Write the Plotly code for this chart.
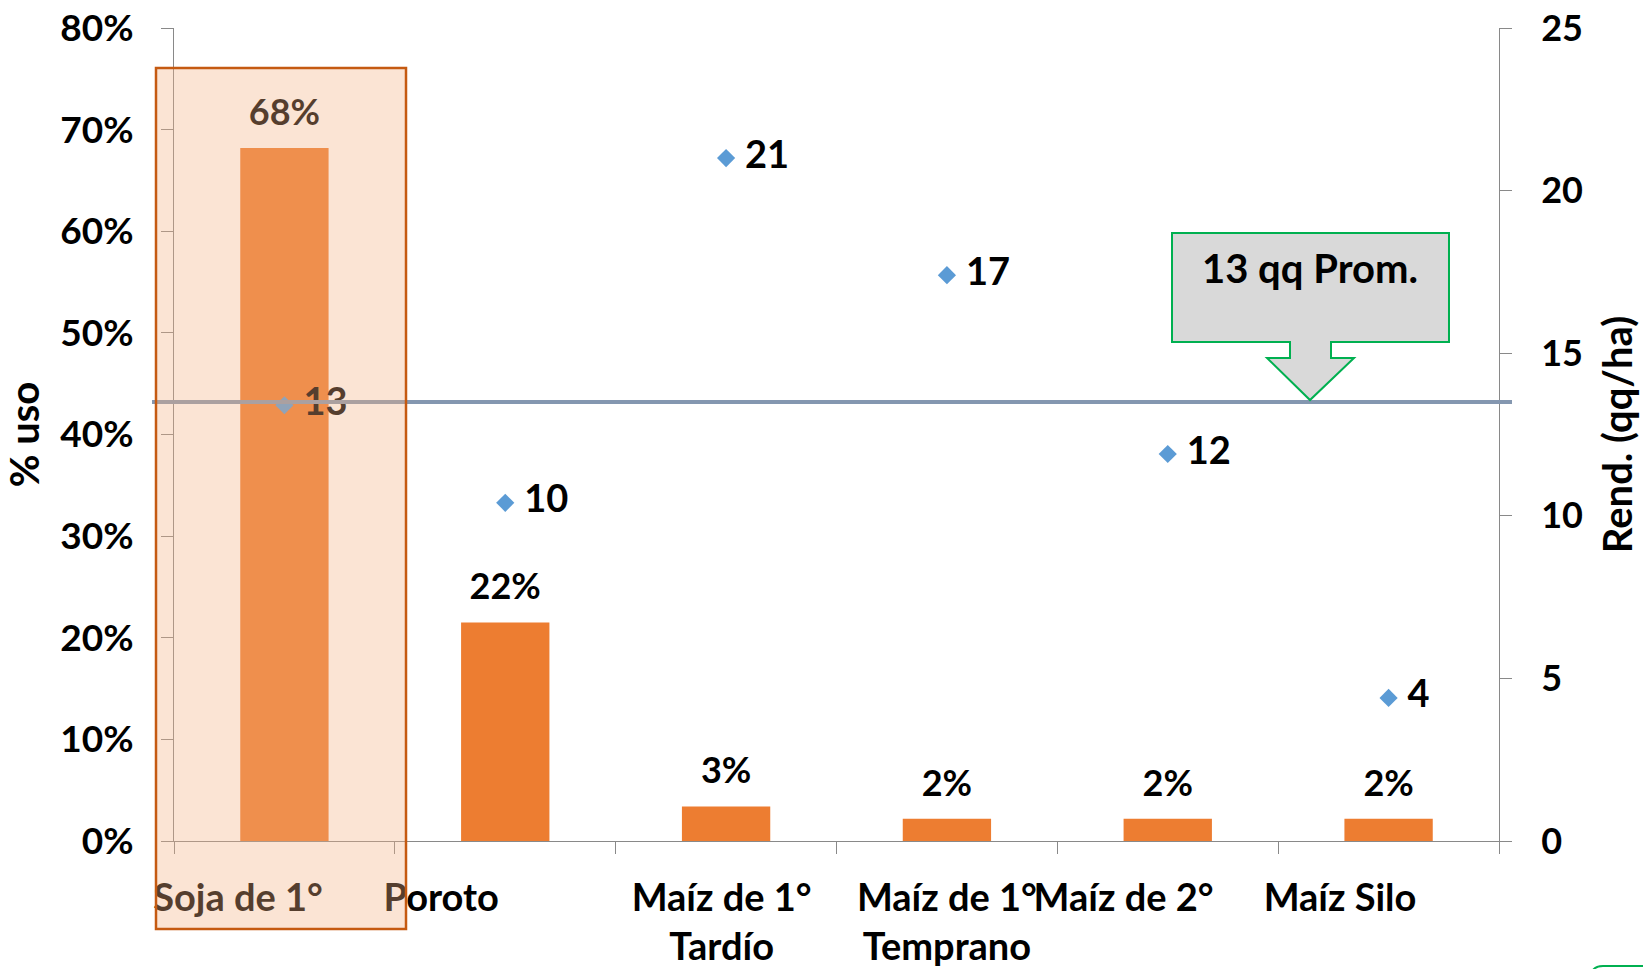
import plotly.graph_objects as go

# Datos
cultivos = ["Soja de 1°", "Poroto", "Maíz de 1°<br>Tardío", "Maíz de 1°<br>Temprano",
            "Maíz de 2°", "Maíz Silo"]
uso = [0.682, 0.215, 0.034, 0.022, 0.022, 0.022]          # % de uso
rendimiento = [13.4, 10.4, 21.0, 17.4, 11.9, 4.4]        # qq/ha
rend_promedio = 13.5
uso_ticks = [0, 0.1, 0.2, 0.3, 0.4, 0.5, 0.6, 0.7, 0.8]
rend_ticks = [0, 5, 10, 15, 20, 25]
texto_promedio = "13 qq Prom."

# Geometría de la figura (píxeles)
ANCHO, ALTO = 1643, 969
M_IZQ, M_DER, M_SUP, M_INF = 174, 144, 28, 128


def px_x(x):
    return (x - M_IZQ) / (ANCHO - M_IZQ - M_DER)


def px_y(y):
    return (ALTO - M_INF - y) / (ALTO - M_SUP - M_INF)


posiciones = list(range(len(cultivos)))
# desplazamiento horizontal de cada rótulo de categoría
desplaz_rotulos = [-0.21, -0.29, -0.02, 0.0, -0.20, -0.22]

FUENTE = "Lato"
NARANJA = "#ED7D31"
AZUL = "#5B9BD5"
GRIS_EJE = "#898989"

fig = go.Figure()

fig.add_trace(go.Bar(
    x=posiciones, y=uso, width=0.4,
    marker=dict(color=NARANJA, line=dict(width=0)),
    hoverinfo="skip", yaxis="y",
))

# rótulos de porcentaje sobre las barras
fig.add_trace(go.Scatter(
    x=posiciones, y=uso, mode="markers+text",
    marker=dict(size=21, opacity=0),
    texttemplate="%{y:.0%}", textposition="top center",
    textfont=dict(family=FUENTE, size=36, color="black", weight="bold"),
    hoverinfo="skip", yaxis="y", cliponaxis=False,
))

# rendimiento por cultivo
fig.add_trace(go.Scatter(
    x=posiciones, y=rendimiento, mode="markers+text",
    marker=dict(symbol="diamond", size=14, color=AZUL),
    texttemplate="\u00a0%{y:.0f}", textposition="middle right",
    textfont=dict(family=FUENTE, size=38, color="black", weight="bold"),
    hoverinfo="skip", yaxis="y2", cliponaxis=False,
))

eje_comun = dict(
    showgrid=False, zeroline=False, showline=True,
    linecolor=GRIS_EJE, linewidth=1,
    ticks="outside", ticklen=12, tickcolor=GRIS_EJE, tickwidth=1,
)

fig.update_layout(
    width=ANCHO, height=ALTO, autosize=False,
    margin=dict(l=M_IZQ, r=M_DER, t=M_SUP, b=M_INF, autoexpand=False),
    paper_bgcolor="white", plot_bgcolor="white",
    showlegend=False,
    font=dict(family=FUENTE, size=36, color="black", weight="bold"),
    xaxis=dict(
        range=[-0.5, len(cultivos) - 0.5],
        tickmode="array",
        tickvals=[p + d for p, d in zip(posiciones, desplaz_rotulos)],
        ticktext=cultivos,
        ticks="", ticklen=0,
        showgrid=False, zeroline=False, showline=True,
        linecolor=GRIS_EJE, linewidth=1,
        tickfont=dict(family=FUENTE, size=38, color="black", weight="bold"),
        tickangle=0,
        ticklabelstandoff=23,
        minor=dict(
            tickmode="array",
            tickvals=[p - 0.5 for p in posiciones] + [len(cultivos) - 0.5],
            ticks="outside", ticklen=12, tickcolor=GRIS_EJE, tickwidth=1,
            showgrid=False,
        ),
    ),
    yaxis=dict(
        range=[0, 0.8], tickmode="array", tickvals=uso_ticks, tickformat=".0%",
        tickfont=dict(family=FUENTE, size=37, color="black", weight="bold"),
        ticklabelstandoff=20,
        title=dict(text="% uso", standoff=10,
                   font=dict(family=FUENTE, size=40, color="black", weight="bold")),
        **eje_comun,
    ),
    yaxis2=dict(
        range=[0, 25], tickmode="array", tickvals=rend_ticks,
        overlaying="y", side="right",
        tickfont=dict(family=FUENTE, size=36, color="black", weight="bold"),
        ticklabelstandoff=22,
        title=dict(text="Rend. (qq/ha)", standoff=22,
                   font=dict(family=FUENTE, size=40, color="black", weight="bold")),
        **eje_comun,
    ),
)

# línea de rendimiento promedio
fig.add_shape(
    type="line", xref="paper", yref="y2",
    x0=px_x(152), x1=px_x(1512), y0=rend_promedio, y1=rend_promedio,
    line=dict(color="#8497B0", width=4), layer="above",
)

# recuadro que resalta la soja de primera
fig.add_shape(
    type="rect", xref="paper", yref="paper",
    x0=px_x(156), x1=px_x(406), y0=px_y(929), y1=px_y(68),
    fillcolor="rgba(244,177,131,0.35)",
    line=dict(color="#C55A11", width=2.5), layer="above",
)

# llamada con flecha hacia la línea de promedio
puntos = [(1172, 233), (1449, 233), (1449, 342), (1331, 342), (1331, 358),
          (1354, 358), (1310, 400), (1267, 358), (1290, 358), (1290, 342),
          (1172, 342)]
trazo = "M " + " L ".join(f"{px_x(x):.5f},{px_y(y):.5f}" for x, y in puntos) + " Z"
fig.add_shape(
    type="path", xref="paper", yref="paper", path=trazo,
    fillcolor="#D9D9D9", line=dict(color="#00B050", width=2), layer="above",
)
fig.add_annotation(
    xref="paper", yref="paper", x=px_x(1310), y=px_y(268),
    text=texto_promedio, showarrow=False, xanchor="center", yanchor="middle",
    font=dict(family=FUENTE, size=40, color="black", weight="bold"),
)

# borde de una forma contigua en la esquina inferior derecha
borde = (f"M {px_x(1593):.5f},{px_y(970):.5f} "
         f"Q {px_x(1596):.5f},{px_y(966):.5f} {px_x(1603):.5f},{px_y(966):.5f} "
         f"L {px_x(1645):.5f},{px_y(966):.5f}")
fig.add_shape(
    type="path", xref="paper", yref="paper", path=borde,
    line=dict(color="#00B050", width=2), layer="above",
)

fig.write_html("out.html")
